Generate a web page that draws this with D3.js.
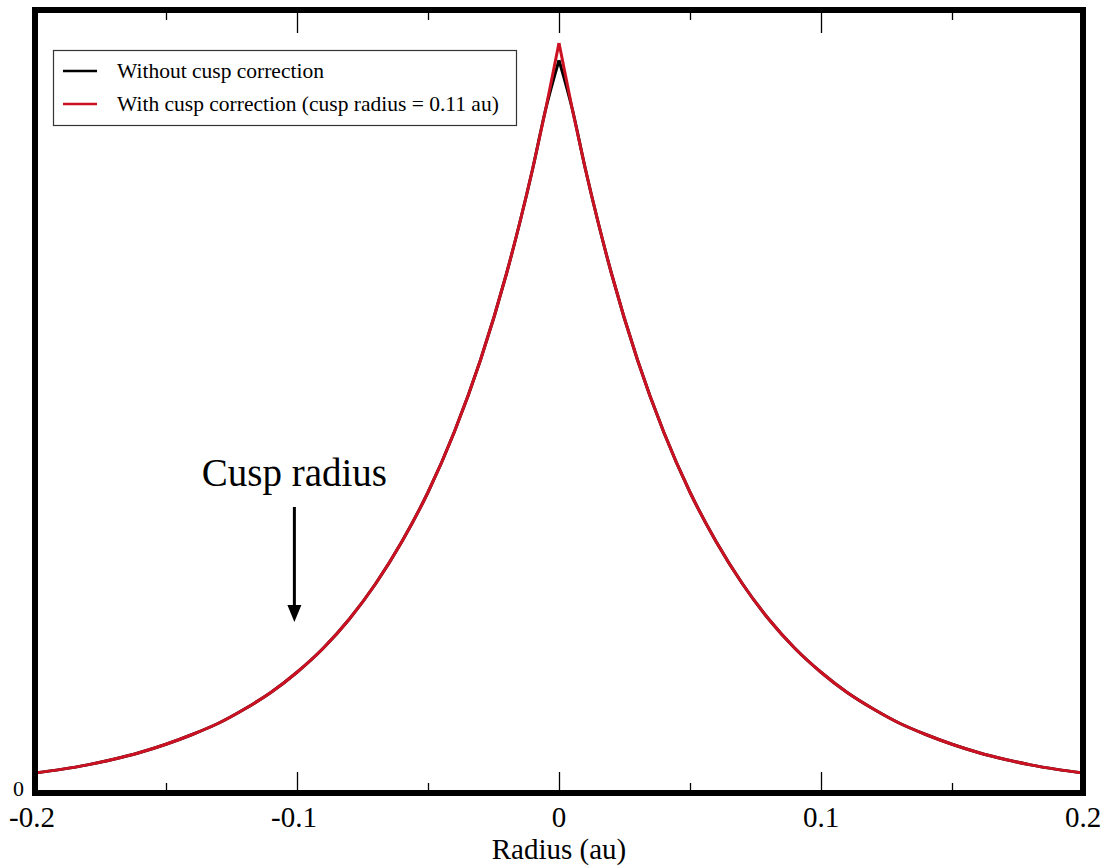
<!DOCTYPE html>
<html>
<head>
<meta charset="utf-8">
<script src="https://cdn.jsdelivr.net/npm/d3@7"></script>
<style>
  html, body { margin: 0; padding: 0; background: #ffffff; }
  svg { display: block; }
</style>
</head>
<body>
<svg id="chart" width="1105" height="868"></svg>
<script>
// Radial samples (au) and density, normalised so the corrected peak is 1
const radius = [-0.20, -0.19, -0.18, -0.17, -0.16, -0.15, -0.14, -0.13, -0.12, -0.11, -0.10, -0.09, -0.08, -0.07, -0.06, -0.05, -0.04, -0.03, -0.02, -0.015, -0.01, -0.005, 0,
                 0.005, 0.01, 0.015, 0.02, 0.03, 0.04, 0.05, 0.06, 0.07, 0.08, 0.09, 0.10, 0.11, 0.12, 0.13, 0.14, 0.15, 0.16, 0.17, 0.18, 0.19, 0.20];
const withCusp = [0.0265, 0.0315, 0.0375, 0.045, 0.054, 0.065, 0.078, 0.093, 0.112, 0.134, 0.161, 0.193, 0.232, 0.279, 0.335, 0.401, 0.481, 0.577, 0.693, 0.760, 0.833, 0.913, 1.000,
                  0.913, 0.833, 0.760, 0.693, 0.577, 0.481, 0.401, 0.335, 0.279, 0.232, 0.193, 0.161, 0.134, 0.112, 0.093, 0.078, 0.065, 0.054, 0.045, 0.0375, 0.0315, 0.0265];
const withoutCusp = [0.0265, 0.0315, 0.0375, 0.045, 0.054, 0.065, 0.078, 0.093, 0.112, 0.134, 0.161, 0.193, 0.232, 0.279, 0.335, 0.401, 0.481, 0.577, 0.693, 0.760, 0.833, 0.913, 0.977,
                     0.913, 0.833, 0.760, 0.693, 0.577, 0.481, 0.401, 0.335, 0.279, 0.232, 0.193, 0.161, 0.134, 0.112, 0.093, 0.078, 0.065, 0.054, 0.045, 0.0375, 0.0315, 0.0265];

const xTickMajor = [-0.2, -0.1, 0, 0.1, 0.2];
const xTickMinor = [-0.15, -0.05, 0.05, 0.15];
const xTickLabels = ["-0.2", "-0.1", "0", "0.1", "0.2"];
const yTickLabels = ["0"];
const seriesNames = ["Without cusp correction", "With cusp correction (cusp radius = 0.11 au)"];
const seriesColors = ["#000000", "#cc1122"];
const arrowRadius = [-0.101];
const annotation = ["Cusp radius"];

const serif = '"Liberation Serif", "Times New Roman", serif';
const svg = d3.select("#chart");
const plotLeft = 35, plotRight = 1083, plotTop = 10, plotBottom = 793;

const x = d3.scaleLinear().domain([-0.2, 0.2]).range([plotLeft, plotRight]);
const y = d3.scaleLinear().domain([0, 1.044]).range([plotBottom, plotTop]);

svg.append("defs").append("clipPath").attr("id", "plotClip")
  .append("rect").attr("x", plotLeft).attr("y", plotTop)
  .attr("width", plotRight - plotLeft).attr("height", plotBottom - plotTop);

// Curves: each side of the cusp is smoothed separately so the tip stays sharp
const line = d3.line().x(d => x(d[0])).y(d => y(d[1])).curve(d3.curveMonotoneX);
function drawSeries(values, color, width) {
  const pts = radius.map((r, i) => [r, values[i]]);
  const leftHalf = pts.filter(p => p[0] <= 0);
  const rightHalf = pts.filter(p => p[0] >= 0);
  const g = svg.append("g").attr("clip-path", "url(#plotClip)");
  [leftHalf, rightHalf].forEach(half => {
    g.append("path").datum(half)
      .attr("d", line)
      .attr("fill", "none")
      .attr("stroke", color)
      .attr("stroke-width", width)
      .attr("stroke-linejoin", "miter");
  });
}
drawSeries(withoutCusp, seriesColors[0], 3);
drawSeries(withCusp, seriesColors[1], 3);

// Inward tick marks on the top and bottom edges
const bottomAxis = svg.append("g").attr("transform", `translate(0,${plotBottom})`)
  .call(d3.axisTop(x).tickValues(xTickMajor.slice(1, -1)).tickSize(21).tickFormat(""));
const bottomMinor = svg.append("g").attr("transform", `translate(0,${plotBottom})`)
  .call(d3.axisTop(x).tickValues(xTickMinor).tickSize(10).tickFormat(""));
const topAxis = svg.append("g").attr("transform", `translate(0,${plotTop})`)
  .call(d3.axisBottom(x).tickValues(xTickMajor.slice(1, -1)).tickSize(23).tickFormat(""));
const topMinor = svg.append("g").attr("transform", `translate(0,${plotTop})`)
  .call(d3.axisBottom(x).tickValues(xTickMinor).tickSize(10).tickFormat(""));
[bottomAxis, bottomMinor, topAxis, topMinor].forEach(a => {
  a.select(".domain").remove();
  a.selectAll(".tick line").attr("stroke", "#000").attr("stroke-width", 1.3);
});

// Frame
svg.append("rect")
  .attr("x", plotLeft).attr("y", plotTop)
  .attr("width", plotRight - plotLeft).attr("height", plotBottom - plotTop)
  .attr("fill", "none").attr("stroke", "#000").attr("stroke-width", 6);

// Tick labels
svg.append("g").selectAll("text").data(xTickMajor).join("text")
  .attr("x", d => x(d) + (d < 0 ? -3 : 0))
  .attr("y", 827)
  .attr("text-anchor", "middle")
  .style("font-family", serif)
  .style("font-size", "29px")
  .text((d, i) => xTickLabels[i]);

svg.append("text")
  .attr("x", 24).attr("y", 796)
  .attr("text-anchor", "end")
  .style("font-family", serif)
  .style("font-size", "22px")
  .text(yTickLabels[0]);

// Axis title
svg.append("text")
  .attr("x", x(0)).attr("y", 859)
  .attr("text-anchor", "middle")
  .style("font-family", serif)
  .style("font-size", "29px")
  .text("Radius (au)");

// Legend
const legend = svg.append("g");
legend.append("rect")
  .attr("x", 53.5).attr("y", 50.5).attr("width", 463).attr("height", 75)
  .attr("fill", "#fff").attr("stroke", "#333").attr("stroke-width", 1.2);
seriesNames.forEach((name, i) => {
  const ly = 71 + i * 33;
  legend.append("line")
    .attr("x1", 63).attr("x2", 97).attr("y1", ly).attr("y2", ly)
    .attr("stroke", seriesColors[i]).attr("stroke-width", 2.5);
  legend.append("text")
    .attr("x", 117).attr("y", ly + 7)
    .style("font-family", serif)
    .style("font-size", "21.5px")
    .text(name);
});

// Annotation with arrow
const ax = x(arrowRadius[0]);
svg.append("text")
  .attr("x", ax).attr("y", 486)
  .attr("text-anchor", "middle")
  .style("font-family", serif)
  .style("font-size", "39px")
  .text(annotation[0]);
svg.append("line")
  .attr("x1", ax).attr("x2", ax).attr("y1", 507).attr("y2", 608)
  .attr("stroke", "#000").attr("stroke-width", 3);
svg.append("path")
  .attr("d", `M${ax - 7},${605} L${ax + 7},${605} L${ax},${622} Z`)
  .attr("fill", "#000");
</script>
</body>
</html>
